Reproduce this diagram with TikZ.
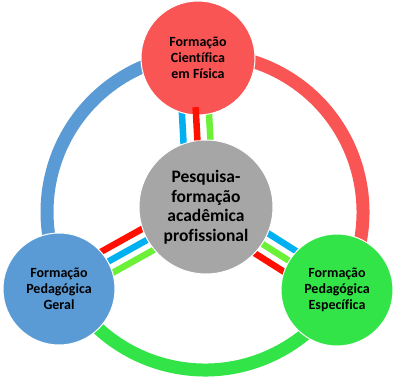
\documentclass[tikz,border=0pt]{standalone}
\usepackage{fontspec}
\setmainfont{Carlito}[Ligatures={NoCommon}]
\usetikzlibrary{calc, backgrounds}

\definecolor{redN}{RGB}{250,85,85}
\definecolor{blueN}{RGB}{91,155,213}
\definecolor{greenN}{RGB}{51,228,72}
\definecolor{grayN}{RGB}{166,166,166}
\definecolor{redB}{RGB}{255,16,0}
\definecolor{blueB}{RGB}{0,176,240}
\definecolor{greenB}{RGB}{108,240,56}

\begin{document}
\begin{tikzpicture}[x=1pt, y=1pt,
  area/.style={circle, draw=white, line width=1pt, minimum size=112pt,
    inner sep=0pt, align=center, font=\bfseries\fontsize{14}{16}\selectfont},
  ring/.style={line width=13pt},
  bar/.style={line width=6.5pt}]
\useasboundingbox (0,0) rectangle (397,386);

% The four areas
\node[area, fill=redN, minimum size=114pt] (fis) at (198,328)
  {Formação\\Científica\\em Física};
\node[area, fill=blueN] (ger) at (59,97)
  {Formação\\Pedagógica\\Geral};
\node[area, fill=greenN] (esp) at (337,96)
  {Formação\\Pedagógica\\Específica};
\node[area, fill=grayN, minimum size=134pt,
  font=\bfseries\fontsize{17.5}{19.5}\selectfont] (pesq) at (206,179)
  {Pesquisa-\\formação\\acadêmica\\profissional};

\begin{scope}[on background layer]
\coordinate (ringc) at (205,174);
% Outer ring, one colour between each two areas
\draw[ring, blueN] ($(ringc)+(93:158)$) arc[start angle=93, end angle=208, radius=158];
\draw[ring, greenN] ($(ringc)+(208:158)$) arc[start angle=208, end angle=329, radius=158];
\draw[ring, redN] ($(ringc)+(-31:158)$) arc[start angle=-31, end angle=93, radius=158];

% Bars: top
\draw[bar, blueB] ($(fis)!19pt!-90:(pesq)$) -- ($(pesq)!19pt!90:(fis)$);
\draw[bar, greenB] ($(fis)!8pt!90:(pesq)$) -- ($(pesq)!8pt!-90:(fis)$);
% Bars: lower left
\draw[bar, redB] ($(ger)!12pt!90:(pesq)$) -- ($(pesq)!12pt!-90:(ger)$);
\draw[bar, blueB] (ger) -- (pesq);
\draw[bar, greenB] ($(ger)!12pt!-90:(pesq)$) -- ($(pesq)!12pt!90:(ger)$);
% Bars: lower right
\draw[bar, blueB] ($(pesq)!11pt!90:(esp)$) -- ($(esp)!11pt!-90:(pesq)$);
\draw[bar, greenB] ($(pesq)!1pt!-90:(esp)$) -- ($(esp)!1pt!90:(pesq)$);
\draw[bar, redB] ($(pesq)!13pt!-90:(esp)$) -- ($(esp)!13pt!90:(pesq)$);
\end{scope}

% Red bar at the top runs into the red area
\draw[bar, redB, shorten <=49pt, shorten >=67pt]
  ($(fis)!5pt!-90:(pesq)$) -- ($(pesq)!5pt!90:(fis)$);
\end{tikzpicture}
\end{document}
